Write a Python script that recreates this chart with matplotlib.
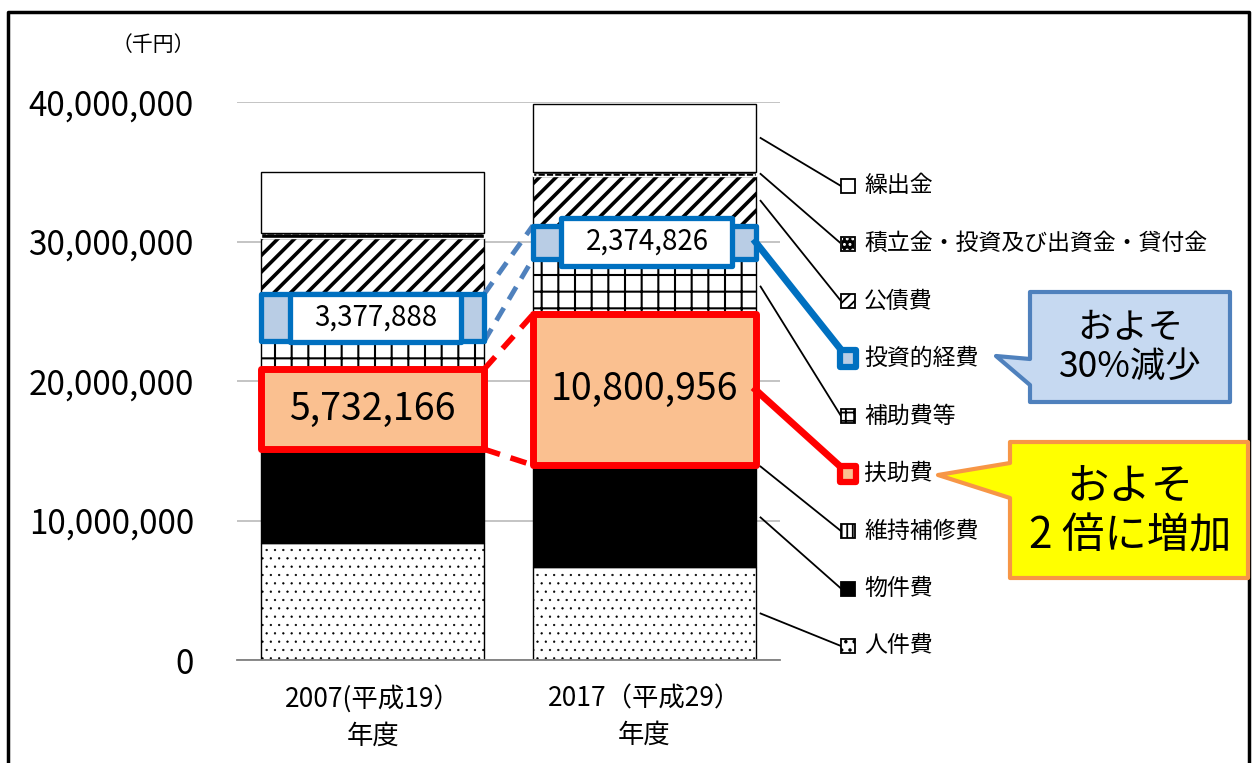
import matplotlib
matplotlib.use('Agg')
import matplotlib.pyplot as plt
from matplotlib.patches import Rectangle, Polygon
from matplotlib.lines import Line2D

plt.rcParams['font.family'] = ['Noto Sans CJK JP', 'DejaVu Sans']

# data (千円)
years = ['2007(平成19）\n年度', '2017（平成29）\n年度']
items = ['人件費', '物件費', '維持補修費', '扶助費', '補助費等', '投資的経費',
         '公債費', '積立金・投資及び出資金・貸付金', '繰出金']
v2007 = [8390000, 6520000, 200000, 5732166, 2000000, 3377888, 4030000, 360000, 4370000]
v2017 = [6670000, 7100000, 200000, 10800956, 4000000, 2374826, 3550000, 300000, 4850000]
callout_blue = 'およそ\n30%減少'
callout_yellow = 'およそ\n2 倍に増加'

# styles
faces = ['white', 'black', 'white', '#FAC090', 'white', '#B9CDE5', 'white', 'black', 'white']
edges = ['black', 'black', 'black', 'black', 'black', 'black', 'black', 'white', 'black']
hatches = ['..', None, '|', None, '+', None, '//', '..', None]
hatch_lw = [0.4, 1, 1.5, 1, 1.5, 1, 2.6, 0.5, 1]
mark_hatches = ['..', None, '|||', None, '++', None, '///', '...', None]
RED = '#FF0000'
BLUE = '#0070C0'
DASHBLUE = '#4F81BD'

W, H = 1252, 763
fig = plt.figure(figsize=(W / 100, H / 100), dpi=100)


def fx(x):
    return x / W


def fy(y):
    return 1 - y / H


ax = fig.add_axes([fx(237), fy(660), 543 / W, 558 / H])
ax.set_xlim(-0.5, 1.5)
ax.set_ylim(0, 40000000)
width = 0.82
xs = [0, 1]

bottoms = [0, 0]
seg = []  # (bottom, top) per item per bar
for i, name in enumerate(items):
    plt.rcParams['hatch.linewidth'] = hatch_lw[i]
    vals = [v2007[i], v2017[i]]
    ax.bar(xs, vals, bottom=bottoms, width=width, color=faces[i], edgecolor=edges[i],
           hatch=hatches[i], linewidth=1.0, zorder=2)
    seg.append([(bottoms[k], bottoms[k] + vals[k]) for k in range(2)])
    bottoms = [bottoms[k] + vals[k] for k in range(2)]

ax.set_yticks([0, 10000000, 20000000, 30000000, 40000000])
ax.set_yticklabels([f'{int(t):,}' for t in ax.get_yticks()], fontsize=24)
ax.set_xticks(xs)
ax.set_xticklabels(years, fontsize=19, linespacing=1.45)
ax.tick_params(axis='y', length=0, pad=31)
ax.tick_params(axis='x', length=0, pad=18)
ax.grid(axis='y', color='#BFBFBF', linewidth=1.3, zorder=0)
ax.set_axisbelow(True)
for s in ['left', 'right', 'top']:
    ax.spines[s].set_visible(False)
ax.spines['bottom'].set_color('#808080')
ax.spines['bottom'].set_linewidth(1.3)

fig.text(fx(153), fy(45), '（千円）', fontsize=15, ha='center', va='center')

# highlight boxes on 扶助費 and 投資的経費
i_fu = items.index('扶助費')
i_to = items.index('投資的経費')
for k in range(2):
    b, t = seg[i_fu][k]
    ax.add_patch(Rectangle((xs[k] - width / 2, b), width, t - b, fill=False,
                           edgecolor=RED, linewidth=5, joinstyle='round', zorder=5))
    ax.text(xs[k], (b + t) / 2, f'{[v2007, v2017][k][i_fu]:,}', fontsize=27,
            ha='center', va='center', zorder=6)
    b, t = seg[i_to][k]
    ax.add_patch(Rectangle((xs[k] - width / 2, b), width, t - b, fill=False,
                           edgecolor=BLUE, linewidth=3.8, joinstyle='round', zorder=5))
    mid = (b + t) / 2
    bh = 3440000
    ax.add_patch(Rectangle((xs[k] - 0.305, mid - bh / 2), 0.63, bh, facecolor='white',
                           edgecolor=BLUE, linewidth=3.8, joinstyle='round', zorder=6))
    ax.text(xs[k] + 0.01, mid, f'{[v2007, v2017][k][i_to]:,}', fontsize=20,
            ha='center', va='center', zorder=7)

# dashed connectors between bars
x0, x1 = xs[0] + width / 2, xs[1] - width / 2
for j in range(2):
    ax.plot([x0, x1], [seg[i_fu][0][j], seg[i_fu][1][j]], color=RED, lw=4,
            ls=(0, (3, 2)), zorder=4, solid_capstyle='butt')
    ax.plot([x0, x1], [seg[i_to][0][j], seg[i_to][1][j]], color=DASHBLUE, lw=3.5,
            ls=(0, (3, 2)), zorder=4)

# legend with leader lines
to_fig = ax.transData + fig.transFigure.inverted()
leg_y = [186 + 57.5 * n for n in range(len(items))]
for n, i in enumerate(reversed(range(len(items)))):
    py = leg_y[n]
    b, t = seg[i][1]
    sx, sy = to_fig.transform((xs[1] + width / 2, (b + t) / 2))
    if i == i_fu or i == i_to:
        col = RED if i == i_fu else BLUE
        fig.add_artist(Line2D([sx, fx(848)], [sy, fy(py)], color=col, lw=5,
                              transform=fig.transFigure, zorder=3))
        fig.add_artist(Rectangle((fx(840), fy(py + 8)), 16 / W, 16 / H,
                                 facecolor=faces[i], edgecolor=col, linewidth=4.5,
                                 joinstyle='round', transform=fig.transFigure, zorder=4))
    else:
        sx += 5 / W
        fig.add_artist(Line2D([sx, fx(841)], [sy, fy(py)], color='black', lw=1.3,
                              transform=fig.transFigure, zorder=3))
        plt.rcParams['hatch.linewidth'] = 1.3
        fig.add_artist(Rectangle((fx(841), fy(py + 7)), 14 / W, 14 / H,
                                 facecolor=faces[i], edgecolor=edges[i] if i != 7 else 'white',
                                 linewidth=1.3, hatch=mark_hatches[i],
                                 transform=fig.transFigure, zorder=4))
        if i == 7:
            fig.add_artist(Rectangle((fx(841), fy(py + 7)), 14 / W, 14 / H, fill=False,
                                     edgecolor='black', linewidth=1.3,
                                     transform=fig.transFigure, zorder=4))
    fig.text(fx(864), fy(py), items[i], fontsize=16.5, ha='left', va='center')

# callouts
blue_pts = [(1030, 292), (1230, 292), (1230, 402), (1030, 402), (1030, 385), (996, 356), (1030, 359)]
fig.add_artist(Polygon([(fx(x), fy(y)) for x, y in blue_pts], closed=True,
                       facecolor='#C6D9F1', edgecolor=DASHBLUE, linewidth=3,
                       joinstyle='round', transform=fig.transFigure, zorder=5))
fig.text(fx(1130), fy(347), callout_blue, fontsize=25.5, ha='center', va='center',
         linespacing=1.1, zorder=6)

yel_pts = [(1010, 442), (1248, 442), (1248, 578), (1010, 578), (1010, 498), (938, 475), (1010, 463)]
fig.add_artist(Polygon([(fx(x), fy(y)) for x, y in yel_pts], closed=True,
                       facecolor='#FFFF00', edgecolor='#F79646', linewidth=3,
                       joinstyle='round', transform=fig.transFigure, zorder=5))
fig.text(fx(1130), fy(512), callout_yellow, fontsize=30.5, ha='center', va='center',
         linespacing=1.15, zorder=6)

# outer frame
frame = [(8, 800), (8, 12), (1249, 12), (1249, 800)]
fig.add_artist(Line2D([fx(x) for x, y in frame], [fy(y) for x, y in frame],
                      color='black', lw=2.5, transform=fig.transFigure))

fig.savefig('out.png', dpi=100)
